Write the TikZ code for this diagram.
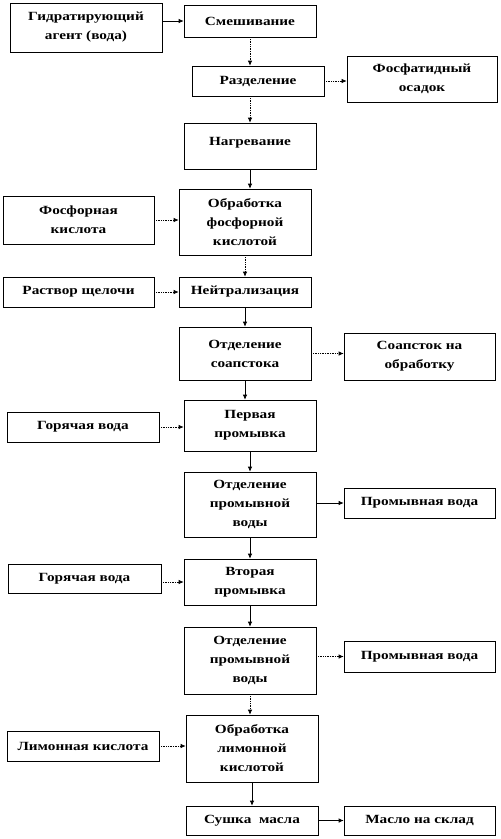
\documentclass[tikz,border=0pt]{standalone}
\usepackage{fontspec}
\setmainfont{Liberation Serif}[FakeStretch=1.22]
\usetikzlibrary{arrows.meta}
\tikzset{
 box/.style={draw=black, line width=0.6pt, fill=white, inner sep=1pt, align=center,
   font=\fontsize{12.5}{19}\selectfont\bfseries, anchor=center},
 arr/.style={-{Latex[length=5pt,width=4.5pt]}, line width=0.7pt},
 darr/.style={arr, densely dotted},
}
\newcommand\bx[6]{\node[box, minimum width={(#4-#2)*1pt}, minimum height={(#5-#3)*1pt}] (#1) at ({(#2+#4)/2*1pt},{-(#3+#5)/2*1pt}) {#6};}
\begin{document}
\begin{tikzpicture}[x=1pt,y=1pt]
\useasboundingbox (0,0) rectangle (501,-839);
\bx{gid}{10}{3}{162}{52}{Гидратирующий\\агент (вода)}
\bx{smes}{184}{5}{316}{37}{Смешивание}
\bx{razd}{192}{66}{324}{96}{Разделение}
\bx{fos}{347}{56}{497}{102}{Фосфатидный\\осадок}
\bx{nagr}{184}{123}{316}{169}{Нагревание\\[-9pt]}
\bx{fk}{3}{196}{154}{244}{Фосфорная\\кислота}
\bx{obr}{179}{189}{311}{255}{Обработка\\фосфорной\\кислотой}
\bx{rs}{3}{277}{154}{307}{Раствор щелочи}
\bx{neut}{179}{277}{311}{307}{Нейтрализация}
\bx{ots}{179}{327}{311}{380}{Отделение\\соапстока}
\bx{soap}{344}{333}{495}{380}{Соапсток на\\обработку}
\bx{p1}{184}{400}{316}{451}{Первая\\промывка}
\bx{gv1}{7}{412}{159}{442}{Горячая вода}
\bx{op1}{184}{472}{316}{537}{Отделение\\промывной\\воды}
\bx{pv1}{344}{488}{495}{518}{Промывная вода}
\bx{v2}{184}{559}{316}{605}{Вторая\\промывка}
\bx{gv2}{8}{564}{161}{593}{Горячая вода}
\bx{op2}{184}{627}{316}{694}{Отделение\\промывной\\воды}
\bx{pv2}{344}{641}{495}{672}{Промывная вода}
\bx{ol}{186}{715}{318}{782}{Обработка\\лимонной\\кислотой}
\bx{lk}{7}{731}{159}{761}{Лимонная кислота}
\bx{sush}{186}{806}{318}{835}{Сушка\ \ масла}
\bx{mas}{344}{806}{495}{835}{Масло на склад}
% horizontal
\draw[arr] (gid.east |- smes) -- (smes.west);
\draw[darr] (razd.east) -- (razd.east -| fos.west);
\draw[darr] (fk.east) -- (fk.east -| obr.west);
\draw[darr] (rs.east) -- (neut.west);
\draw[darr] (ots.east) -- (ots.east -| soap.west);
\draw[darr] (gv1.east) -- (gv1.east -| p1.west);
\draw[arr] (op1.east |- pv1) -- (pv1.west);
\draw[darr] (gv2.east |- v2) -- (v2.west);
\draw[darr] (op2.east |- pv2) -- (pv2.west);
\draw[darr] (lk.east) -- (lk.east -| ol.west);
\draw[arr] (sush.east) -- (mas.west);
% vertical
\draw[darr] (smes.south) -- (smes.south |- razd.north);
\draw[darr] (nagr.north |- razd.south) -- (nagr.north);
\draw[arr] (nagr.south) -- (nagr.south |- obr.north);
\draw[darr] (obr.south) -- (neut.north);
\draw[arr] (neut.south) -- (ots.north);
\draw[arr] (ots.south) -- (ots.south |- p1.north);
\draw[arr] (p1.south) -- (op1.north);
\draw[arr] (op1.south) -- (v2.north);
\draw[arr] (v2.south) -- (op2.north);
\draw[darr] (op2.south) -- (op2.south |- ol.north);
\draw[arr] (ol.south) -- (sush.north);
\end{tikzpicture}
\end{document}
